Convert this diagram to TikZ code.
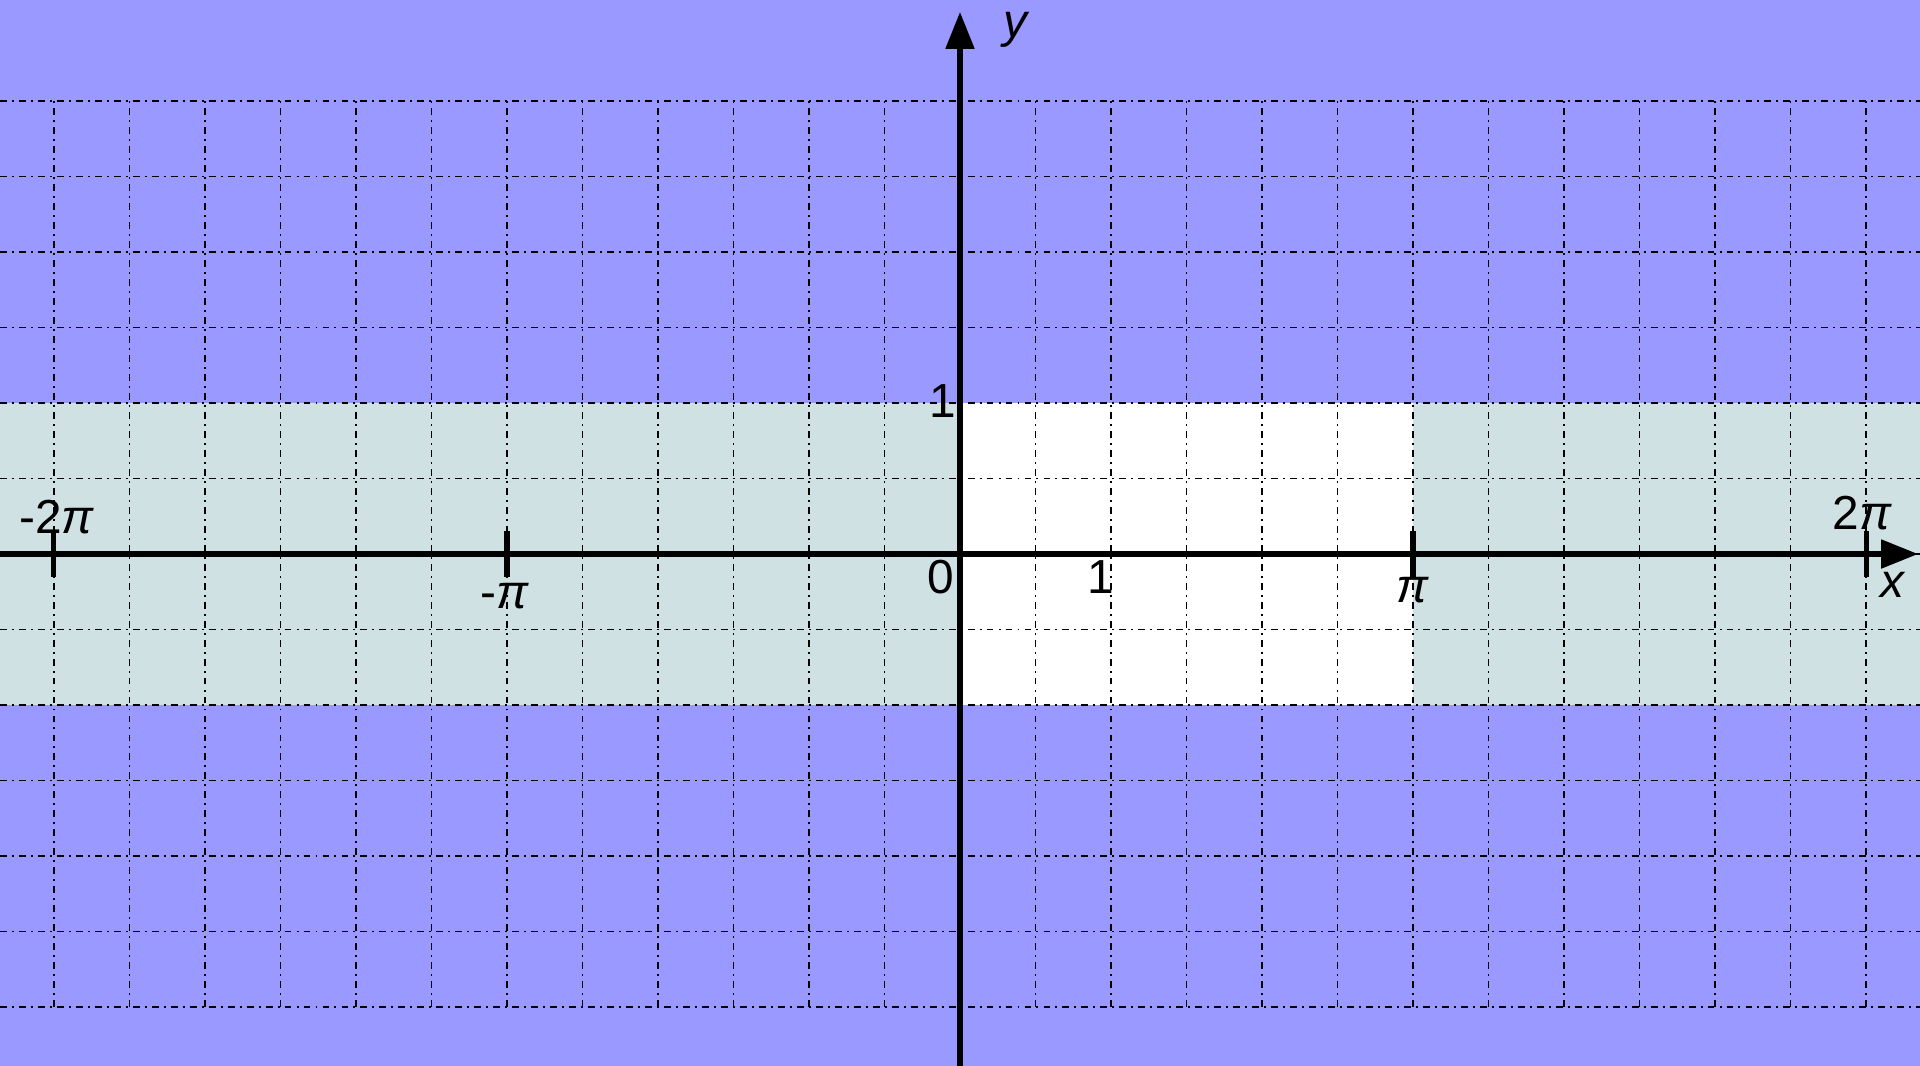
\documentclass[tikz,border=0pt]{standalone}
\usepackage{fontspec}
\setmainfont{Liberation Sans}
\usetikzlibrary{arrows.meta}
\definecolor{BgBlue}{HTML}{9999FF}
\definecolor{BandGrey}{HTML}{D0E1E4}
\newcommand{\pisym}{\textit{π}}

\begin{document}
\begin{tikzpicture}[
  x=1cm, y=1cm,
  gridline/.style={black, line width=0.65pt, dash pattern=on 2.6pt off 1.9pt on 0.75pt off 1.9pt},
  axis/.style={-{Triangle[length=13.9pt, width=10.5pt]}, line width=2pt, black},
  ticksym/.style={line width=1.9pt, black},
  lbl/.style={inner sep=0pt, font=\fontsize{18}{21}\selectfont}
]
  % background and bands
  \fill[BgBlue] (-12.715,-6.781) rectangle (12.715,7.338);
  \useasboundingbox (-12.715,-6.781) rectangle (12.715,7.338);
  \fill[BandGrey] (-12.715,-2) rectangle (12.715,2);
  \fill[white] (0,-2) rectangle (6,2);

  % grid
  \foreach \gx in {-12,...,12}
    \draw[gridline] (\gx,-6) -- (\gx,6);
  \foreach \gy in {-6,...,6}
    \draw[gridline] (-12.715,\gy) -- (12.715,\gy);

  % axes
  \coordinate (xstart) at (-12.715,0);
  \coordinate (xend) at (12.69,0);
  \coordinate (ystart) at (0,-6.781);
  \coordinate (yend) at (0,7.18);
  \draw[axis] (xstart) -- (xend);
  \draw[axis] (ystart) -- (yend);

  % ticks
  \foreach \tx in {-12,-6,6,12}
    \draw[ticksym] (\tx,-0.3) -- (\tx,0.3);

  % labels
  \node[lbl] (mtwopi) at (-11.96,0.49) {-2\pisym};
  \node[lbl] (mpi) at (-6.03,-0.56) {-\pisym};
  \node[lbl] (pi) at (6.0,-0.48) {\pisym};
  \node[lbl] (twopi) at (11.95,0.54) {2\pisym};
  \node[lbl] (xlab) at (12.36,-0.41) {\textit{x}};
  \node[lbl] (ylab) at (0.75,6.94) {\textit{y}};
  \node[lbl] (yone) at (-0.225,2.03) {1};
  \node[lbl] (orig) at (-0.25,-0.30) {0};
  \node[lbl] (xone) at (1.87,-0.30) {1};
\end{tikzpicture}
\end{document}
